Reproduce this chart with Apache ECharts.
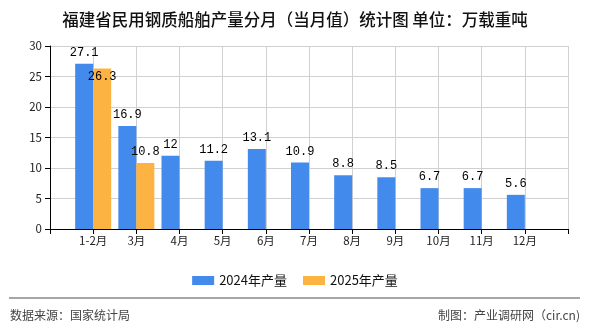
<!DOCTYPE html>
<html>
<head>
<meta charset="utf-8">
<script src="https://cdn.jsdelivr.net/npm/echarts@6/dist/echarts.min.js"></script>
<style>html,body{margin:0;padding:0;background:#fff}#c{width:590px;height:330px}</style>
</head>
<body>
<div id="c"></div>
<script>
const categories = ['1-2月','3月','4月','5月','6月','7月','8月','9月','10月','11月','12月'];
const values2024 = [27.1, 16.9, 12, 11.2, 13.1, 10.9, 8.8, 8.5, 6.7, 6.7, 5.6];
const values2025 = [26.3, 10.8, null, null, null, null, null, null, null, null, null];
const yTicks = [0, 5, 10, 15, 20, 25, 30];
const seriesNames = ['2024年产量', '2025年产量'];

const cats = [''].concat(categories, ['']);
const d24 = [null].concat(values2024, [null]);
const d25 = [null].concat(values2025, [null]);

const cjk = '"Noto Sans CJK SC", sans-serif';
const chart = echarts.init(document.getElementById('c'));
const labelCfg = {
  show: true, position: 'top', distance: 5, color: '#000',
  fontFamily: '"Liberation Mono", monospace', fontSize: 12
};
chart.setOption({
  animation: false,
  title: {
    text: '福建省民用钢质船舶产量分月（当月值）统计图 单位：万载重吨',
    left: 'center', top: 6,
    textStyle: { fontFamily: cjk, fontSize: 16.5, fontWeight: 500, color: '#111' }
  },
  legend: {
    data: seriesNames, left: 'center', top: 269,
    itemWidth: 22, itemHeight: 9, itemGap: 16,
    textStyle: { fontFamily: cjk, fontSize: 13, color: '#111' },
    icon: 'rect'
  },
  grid: { left: 50, right: 22, top: 46, bottom: 101 },
  xAxis: {
    type: 'category', data: cats, boundaryGap: false,
    axisLine: { lineStyle: { color: '#000' } },
    axisTick: { show: true, interval: 0, length: 5, lineStyle: { color: '#000' } },
    axisLabel: { interval: 0, color: '#222', fontFamily: cjk, fontSize: 11.5, margin: 6 },
    splitLine: { show: true, interval: 0, lineStyle: { color: '#d0d0d0' } }
  },
  yAxis: {
    type: 'value', min: yTicks[0], max: yTicks[yTicks.length - 1], interval: 5,
    axisLine: { show: true, lineStyle: { color: '#000' } },
    axisTick: { show: true, length: 5, lineStyle: { color: '#000' } },
    axisLabel: { color: '#222', fontFamily: cjk, fontSize: 11.5, margin: 8 },
    splitLine: { show: true, lineStyle: { color: '#d0d0d0' } }
  },
  labelLayout: function (p) {
    if (p.seriesIndex === 1 && p.dataIndex === 1) return { dy: 19 };
    return {};
  },
  series: [
    { name: seriesNames[0], type: 'bar', data: d24, barWidth: 18, barGap: '0%',
      itemStyle: { color: '#428BEC' }, label: labelCfg },
    { name: seriesNames[1], type: 'bar', data: d25, barWidth: 18,
      itemStyle: { color: '#FDB342' }, label: labelCfg }
  ],
  graphic: [
    { type: 'line', shape: { x1: 9, y1: 298, x2: 580, y2: 298 }, style: { stroke: '#888', lineWidth: 1.5 } },
    { type: 'text', left: 10, top: 309, style: { text: '数据来源：国家统计局', font: '12px "Noto Sans CJK SC"', fill: '#444' } },
    { type: 'text', right: 10, top: 309, style: { text: '制图：产业调研网（cir.cn)', font: '12px "Noto Sans CJK SC"', fill: '#444' } }
  ]
});
</script>
</body>
</html>
